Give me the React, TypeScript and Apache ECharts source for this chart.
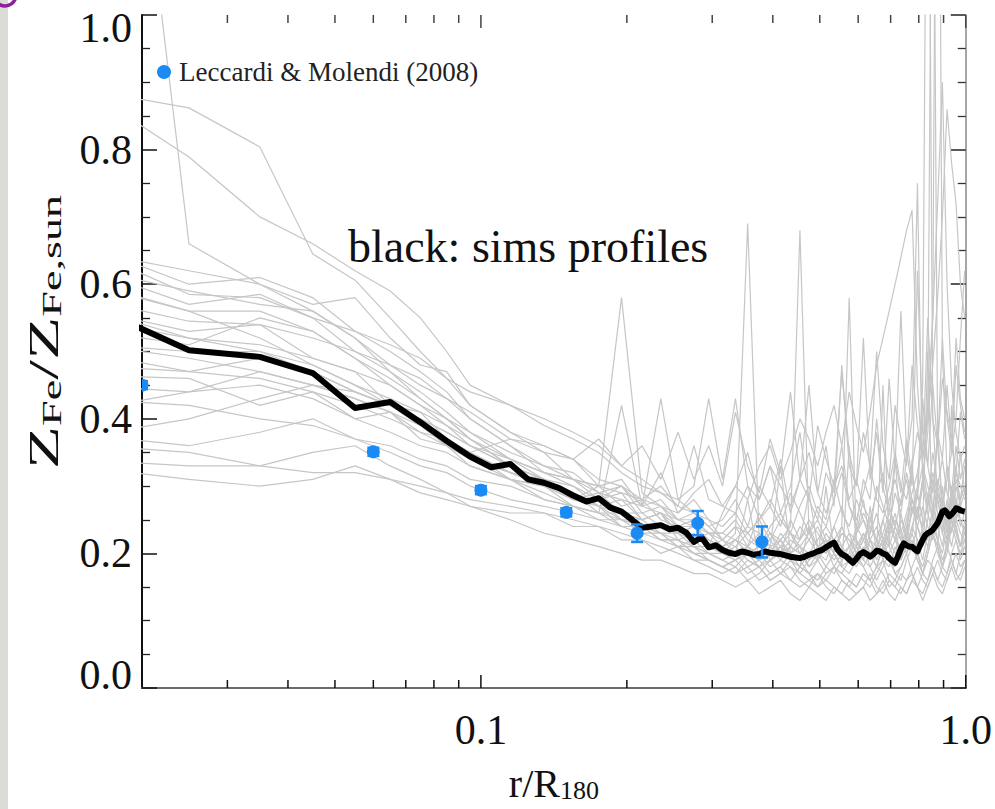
import React, { useEffect, useRef } from "react";
import * as echarts from "echarts";

// radial bins (r/R180) of the mean simulated profile
const BIN_R = [
  0.015, 0.025, 0.035, 0.045, 0.055, 0.065, 0.075, 0.085, 0.095,
  0.105, 0.115, 0.125, 0.135, 0.145, 0.155, 0.165, 0.175, 0.185, 0.195,
  0.205, 0.215, 0.225, 0.235, 0.245, 0.255, 0.265, 0.275, 0.285, 0.295,
  0.305, 0.315, 0.325, 0.335, 0.345, 0.355, 0.365, 0.375, 0.385, 0.395,
  0.405, 0.415, 0.425, 0.435, 0.445, 0.455, 0.465, 0.475, 0.485, 0.495,
  0.505, 0.515, 0.525, 0.535, 0.545, 0.555, 0.565, 0.575, 0.585, 0.595,
  0.605, 0.615, 0.625, 0.635, 0.645, 0.655, 0.665, 0.675, 0.685, 0.695,
  0.705, 0.715, 0.725, 0.735, 0.745, 0.755, 0.765, 0.775, 0.785, 0.795,
  0.805, 0.815, 0.825, 0.835, 0.845, 0.855, 0.865, 0.875, 0.885, 0.895,
  0.905, 0.915, 0.925, 0.935, 0.945, 0.955, 0.965, 0.975, 0.985, 0.995,
];

// mean simulated Z_Fe profile (thick black)
const MEAN_Z = [
  0.574, 0.502, 0.492, 0.468, 0.416, 0.425, 0.395, 0.367, 0.344,
  0.328, 0.333, 0.310, 0.305, 0.297, 0.286, 0.277, 0.282, 0.268, 0.262,
  0.250, 0.238, 0.240, 0.242, 0.236, 0.238, 0.231, 0.217, 0.224, 0.209,
  0.212, 0.205, 0.201, 0.199, 0.203, 0.201, 0.198, 0.199, 0.203, 0.201,
  0.200, 0.199, 0.197, 0.195, 0.194, 0.193, 0.195, 0.198, 0.200, 0.203,
  0.205, 0.209, 0.213, 0.216, 0.205, 0.199, 0.196, 0.191, 0.186, 0.192,
  0.199, 0.202, 0.199, 0.195, 0.199, 0.204, 0.203, 0.200, 0.198, 0.193,
  0.189, 0.186, 0.196, 0.207, 0.215, 0.212, 0.210, 0.210, 0.206, 0.203,
  0.212, 0.220, 0.227, 0.230, 0.232, 0.235, 0.240, 0.245, 0.253, 0.262,
  0.264, 0.260, 0.255, 0.258, 0.262, 0.267, 0.266, 0.264, 0.263, 0.262,
];

// radii at which the individual simulated profiles are sampled
const SIM_R = [
  0.015, 0.025, 0.035, 0.045, 0.055, 0.065, 0.075, 0.085, 0.095,
  0.115, 0.135, 0.155, 0.175, 0.195, 0.215, 0.235, 0.255, 0.275, 0.295,
  0.315, 0.335, 0.355, 0.375, 0.395, 0.415, 0.435, 0.455, 0.475, 0.495,
  0.515, 0.535, 0.555, 0.575, 0.595, 0.615, 0.635, 0.655, 0.675, 0.695,
  0.715, 0.735, 0.755, 0.775, 0.795, 0.815, 0.835, 0.855, 0.875, 0.895,
  0.915, 0.935, 0.955, 0.975, 0.995,
];

// individual simulated cluster profiles (thin grey)
const SIM_01 = [2.0, 0.66, 0.6, 0.56, 0.52, 0.47, 0.43, 0.4, 0.37,
  0.33, 0.31, 0.28, 0.29, 0.26, 0.25, 0.26, 0.22, 0.23, 0.21,
  0.22, 0.2, 0.21, 0.23, 0.19, 0.2, 0.22, 0.21, 0.18, 0.2, 0.23, 0.21, 0.19, 0.2, 0.24, 0.22, 0.2, 0.18,
  0.21, 0.25, 0.23, 0.2, 0.22, 0.27, 0.24, 0.21, 0.25, 0.31, 0.26, 0.23, 0.28, 0.25, 0.3, 0.27, 0.26];
const SIM_02 = [0.89, 0.862, 0.804, 0.645, 0.606, 0.55, 0.5, 0.46, 0.42,
  0.38, 0.36, 0.34, 0.31, 0.3, 0.28, 0.27, 0.25, 0.24, 0.23,
  0.23, 0.25, 0.22, 0.21, 0.24, 0.26, 0.23, 0.22, 0.25, 0.23, 0.21, 0.24, 0.27, 0.23, 0.22, 0.2, 0.23, 0.26,
  0.22, 0.21, 0.24, 0.22, 0.2, 0.23, 0.29, 0.25, 0.22, 0.27, 0.24, 0.21, 0.26, 0.23, 0.28, 0.25, 0.23];
const SIM_03 = [0.894, 0.789, 0.7, 0.66, 0.62, 0.59, 0.55, 0.5, 0.45,
  0.42, 0.4, 0.38, 0.36, 0.33, 0.31, 0.29, 0.28, 0.26, 0.25,
  0.22, 0.21, 0.23, 0.25, 0.22, 0.2, 0.21, 0.24, 0.22, 0.2, 0.19, 0.22, 0.24, 0.21, 0.23, 0.26, 0.24, 0.22,
  0.25, 0.28, 0.31, 0.27, 0.34, 0.4, 0.75, 0.3, 0.26, 0.23, 0.28, 0.25, 0.22, 0.27, 0.24, 0.21, 0.25];
const SIM_04 = [0.65, 0.62, 0.6, 0.57, 0.58, 0.52, 0.48, 0.47, 0.42,
  0.38, 0.35, 0.31, 0.3, 0.27, 0.28, 0.25, 0.24, 0.25, 0.21,
  0.2, 0.21, 0.19, 0.18, 0.2, 0.22, 0.19, 0.18, 0.17, 0.19, 0.21, 0.18, 0.17, 0.19, 0.2, 0.18, 0.16, 0.18,
  0.21, 0.19, 0.17, 0.18, 0.2, 0.22, 0.19, 0.17, 0.2, 0.23, 0.21, 0.18, 0.2, 0.24, 0.22, 0.2, 0.21];
const SIM_05 = [0.66, 0.6, 0.61, 0.58, 0.53, 0.5, 0.47, 0.44, 0.4,
  0.36, 0.32, 0.31, 0.28, 0.29, 0.25, 0.26, 0.23, 0.24, 0.22,
  0.21, 0.23, 0.69, 0.22, 0.2, 0.21, 0.23, 0.2, 0.19, 0.21, 0.22, 0.2, 0.18, 0.19, 0.21, 0.23, 0.2, 0.18,
  0.19, 0.22, 0.2, 0.19, 0.21, 0.24, 0.22, 0.19, 0.23, 0.26, 0.22, 0.2, 0.24, 0.21, 0.25, 0.23, 0.22];
const SIM_06 = [0.655, 0.585, 0.58, 0.55, 0.53, 0.51, 0.49, 0.46, 0.44,
  0.42, 0.39, 0.37, 0.35, 0.32, 0.3, 0.29, 0.27, 0.26, 0.24,
  0.22, 0.24, 0.23, 0.21, 0.22, 0.25, 0.23, 0.21, 0.2, 0.22, 0.24, 0.22, 0.2, 0.21, 0.23, 0.25, 0.22, 0.21,
  0.23, 0.26, 0.24, 0.22, 0.25, 0.28, 0.26, 0.24, 0.27, 0.32, 0.29, 0.27, 0.31, 0.35, 0.4, 0.52, 0.62];
const SIM_07 = [0.625, 0.59, 0.57, 0.56, 0.52, 0.48, 0.45, 0.43, 0.41,
  0.37, 0.35, 0.34, 0.3, 0.31, 0.27, 0.28, 0.25, 0.25, 0.23,
  0.23, 0.22, 0.24, 0.23, 0.21, 0.22, 0.24, 0.68, 0.23, 0.21, 0.22, 0.2, 0.23, 0.22, 0.21, 0.19, 0.22, 0.24,
  0.21, 0.2, 0.22, 0.25, 0.23, 0.21, 0.24, 0.27, 0.24, 0.22, 0.26, 0.23, 0.21, 0.25, 0.28, 0.24, 0.26];
const SIM_08 = [0.626, 0.57, 0.585, 0.55, 0.5, 0.47, 0.44, 0.41, 0.38,
  0.34, 0.31, 0.29, 0.27, 0.25, 0.24, 0.23, 0.22, 0.21, 0.2,
  0.2, 0.19, 0.21, 0.2, 0.18, 0.19, 0.21, 0.2, 0.18, 0.19, 0.22, 0.2, 0.24, 0.58, 0.21, 0.19, 0.18, 0.2,
  0.22, 0.19, 0.18, 0.2, 0.21, 0.23, 0.2, 0.18, 0.21, 0.24, 0.22, 0.19, 0.21, 0.25, 0.23, 0.21, 0.22];
const SIM_09 = [0.602, 0.56, 0.56, 0.53, 0.49, 0.45, 0.42, 0.39, 0.36,
  0.33, 0.3, 0.29, 0.26, 0.26, 0.24, 0.23, 0.21, 0.22, 0.2,
  0.19, 0.2, 0.18, 0.19, 0.21, 0.19, 0.18, 0.17, 0.19, 0.2, 0.18, 0.17, 0.19, 0.21, 0.19, 0.18, 0.2, 0.22,
  0.19, 0.18, 0.21, 0.19, 0.23, 0.26, 0.3, 0.45, 1.6, 0.4, 0.28, 0.24, 0.22, 0.26, 0.23, 0.21, 0.24];
const SIM_10 = [0.58, 0.545, 0.54, 0.52, 0.5, 0.48, 0.46, 0.43, 0.4,
  0.36, 0.33, 0.32, 0.29, 0.3, 0.26, 0.27, 0.24, 0.24, 0.22,
  0.21, 0.22, 0.2, 0.21, 0.23, 0.21, 0.2, 0.22, 0.24, 0.21, 0.2, 0.22, 0.21, 0.19, 0.2, 0.23, 0.21, 0.2,
  0.22, 0.25, 0.22, 0.21, 0.24, 0.28, 0.26, 0.31, 0.38, 0.55, 1.8, 0.5, 0.32, 0.28, 0.33, 0.27, 0.29];
const SIM_11 = [0.565, 0.53, 0.54, 0.49, 0.47, 0.42, 0.41, 0.37, 0.35,
  0.31, 0.3, 0.27, 0.26, 0.24, 0.24, 0.22, 0.22, 0.2, 0.19,
  0.18, 0.19, 0.17, 0.18, 0.16, 0.17, 0.19, 0.17, 0.16, 0.15, 0.17, 0.18, 0.16, 0.15, 0.17, 0.16, 0.15, 0.17,
  0.19, 0.16, 0.15, 0.17, 0.16, 0.18, 0.2, 0.17, 0.16, 0.19, 0.21, 0.18, 0.17, 0.2, 0.22, 0.19, 0.21];
const SIM_12 = [0.533, 0.51, 0.55, 0.53, 0.49, 0.46, 0.43, 0.4, 0.37,
  0.33, 0.31, 0.28, 0.27, 0.24, 0.24, 0.22, 0.22, 0.2, 0.2,
  0.19, 0.18, 0.2, 0.19, 0.17, 0.18, 0.2, 0.19, 0.17, 0.16, 0.18, 0.2, 0.18, 0.17, 0.19, 0.21, 0.18, 0.16,
  0.18, 0.2, 0.17, 0.16, 0.19, 0.21, 0.19, 0.17, 0.2, 0.23, 0.2, 0.18, 0.22, 0.26, 0.24, 0.21, 0.23];
const SIM_13 = [0.513, 0.49, 0.47, 0.45, 0.43, 0.41, 0.39, 0.36, 0.34,
  0.31, 0.3, 0.28, 0.28, 0.26, 0.26, 0.24, 0.24, 0.22, 0.23,
  0.21, 0.22, 0.2, 0.21, 0.23, 0.22, 0.2, 0.21, 0.23, 0.25, 0.22, 0.21, 0.23, 0.22, 0.2, 0.22, 0.24, 0.22,
  0.21, 0.23, 0.25, 0.23, 0.26, 0.29, 0.32, 0.36, 0.42, 0.55, 0.72, 0.9, 0.6, 0.45, 0.38, 0.34, 0.36];
const SIM_14 = [0.5, 0.47, 0.49, 0.47, 0.44, 0.42, 0.4, 0.38, 0.36,
  0.33, 0.31, 0.3, 0.27, 0.28, 0.25, 0.26, 0.23, 0.24, 0.21,
  0.26, 0.3, 0.28, 0.33, 0.36, 0.31, 0.35, 0.4, 0.37, 0.33, 0.38, 0.42, 0.36, 0.44, 0.39, 0.35, 0.41, 0.48,
  0.52, 0.56, 0.6, 0.64, 0.68, 0.71, 0.45, 0.33, 0.3, 0.27, 0.31, 0.28, 0.25, 0.29, 0.26, 0.28, 0.3];
const SIM_15 = [0.465, 0.46, 0.42, 0.44, 0.4, 0.41, 0.37, 0.36, 0.33,
  0.31, 0.28, 0.27, 0.25, 0.25, 0.23, 0.23, 0.21, 0.21, 0.19,
  0.18, 0.17, 0.19, 0.18, 0.16, 0.17, 0.18, 0.16, 0.15, 0.17, 0.16, 0.15, 0.14, 0.16, 0.15, 0.17, 0.16, 0.14,
  0.15, 0.17, 0.16, 0.15, 0.14, 0.16, 0.18, 0.16, 0.15, 0.17, 0.19, 0.17, 0.16, 0.18, 0.2, 0.18, 0.19];
const SIM_16 = [0.412, 0.44, 0.45, 0.43, 0.4, 0.38, 0.36, 0.35, 0.33,
  0.31, 0.29, 0.27, 0.26, 0.42, 0.27, 0.43, 0.28, 0.3, 0.43,
  0.31, 0.43, 0.3, 0.28, 0.33, 0.3, 0.27, 0.31, 0.35, 0.29, 0.26, 0.3, 0.33, 0.28, 0.31, 0.27, 0.25, 0.29,
  0.32, 0.27, 0.24, 0.28, 0.31, 0.26, 0.29, 0.33, 0.28, 0.25, 0.3, 0.34, 0.29, 0.27, 0.32, 0.3, 0.28];
const SIM_17 = [0.372, 0.4, 0.43, 0.45, 0.44, 0.42, 0.4, 0.37, 0.35,
  0.32, 0.31, 0.28, 0.28, 0.25, 0.25, 0.23, 0.23, 0.21, 0.21,
  0.2, 0.22, 0.21, 0.19, 0.2, 0.23, 0.21, 0.2, 0.22, 0.24, 0.21, 0.19, 0.21, 0.23, 0.2, 0.22, 0.25, 0.22,
  0.2, 0.23, 0.26, 0.22, 0.21, 0.24, 0.27, 0.23, 0.21, 0.25, 0.29, 0.26, 0.23, 0.27, 0.31, 0.28, 0.3];
const SIM_18 = [0.377, 0.36, 0.38, 0.4, 0.37, 0.35, 0.33, 0.32, 0.3,
  0.28, 0.27, 0.26, 0.25, 0.24, 0.23, 0.22, 0.21, 0.2, 0.19,
  0.18, 0.17, 0.18, 0.16, 0.17, 0.18, 0.16, 0.15, 0.16, 0.17, 0.15, 0.14, 0.16, 0.15, 0.14, 0.15, 0.17, 0.15,
  0.14, 0.16, 0.15, 0.14, 0.16, 0.17, 0.15, 0.14, 0.16, 0.18, 0.16, 0.15, 0.17, 0.19, 0.17, 0.16, 0.18];
const SIM_19 = [0.362, 0.35, 0.33, 0.35, 0.36, 0.33, 0.31, 0.29, 0.27,
  0.26, 0.26, 0.24, 0.24, 0.22, 0.22, 0.2, 0.21, 0.19, 0.18,
  0.17, 0.18, 0.16, 0.17, 0.19, 0.17, 0.16, 0.18, 0.17, 0.15, 0.16, 0.18, 0.17, 0.16, 0.15, 0.17, 0.16, 0.18,
  0.17, 0.15, 0.16, 0.18, 0.2, 0.17, 0.15, 0.17, 0.19, 0.18, 0.16, 0.18, 0.21, 0.19, 0.17, 0.2, 0.22];
const SIM_20 = [0.339, 0.33, 0.33, 0.32, 0.32, 0.31, 0.3, 0.29, 0.28,
  0.27, 0.26, 0.25, 0.24, 0.23, 0.22, 0.21, 0.2, 0.19, 0.19,
  0.18, 0.19, 0.2, 0.18, 0.19, 0.21, 0.19, 0.18, 0.2, 0.19, 0.17, 0.18, 0.2, 0.19, 0.18, 0.2, 0.22, 0.19,
  0.21, 0.24, 0.22, 0.2, 0.24, 0.28, 0.25, 0.3, 0.42, 1.5, 0.36, 0.27, 0.24, 0.28, 0.25, 0.27, 0.26];
const SIM_21 = [0.329, 0.31, 0.3, 0.31, 0.33, 0.31, 0.29, 0.28, 0.27,
  0.25, 0.23, 0.22, 0.21, 0.2, 0.19, 0.19, 0.18, 0.17, 0.17,
  0.16, 0.15, 0.16, 0.14, 0.15, 0.16, 0.14, 0.13, 0.15, 0.14, 0.13, 0.15, 0.14, 0.13, 0.14, 0.15, 0.13, 0.14,
  0.16, 0.14, 0.13, 0.15, 0.14, 0.16, 0.15, 0.13, 0.15, 0.17, 0.15, 0.14, 0.16, 0.18, 0.16, 0.17, 0.19];
const SIM_22 = [0.606, 0.56, 0.52, 0.48, 0.45, 0.42, 0.39, 0.37, 0.35,
  0.32, 0.3, 0.28, 0.3, 0.58, 0.29, 0.27, 0.26, 0.28, 0.25,
  0.24, 0.26, 0.23, 0.25, 0.28, 0.25, 0.23, 0.27, 0.3, 0.26, 0.24, 0.28, 0.32, 0.27, 0.25, 0.29, 0.33, 0.28,
  0.26, 0.3, 0.35, 0.3, 0.28, 0.33, 0.38, 0.34, 0.4, 0.48, 0.58, 0.7, 0.86, 0.78, 0.72, 0.6, 0.55];
const SIM_23 = [0.567, 0.52, 0.51, 0.49, 0.47, 0.45, 0.42, 0.4, 0.38,
  0.35, 0.33, 0.31, 0.29, 0.28, 0.27, 0.26, 0.25, 0.26, 0.24,
  0.25, 0.28, 0.24, 0.3, 0.27, 0.34, 0.26, 0.31, 0.45, 0.29, 0.36, 0.27, 0.48, 0.33, 0.3, 0.52, 0.31, 0.38,
  0.29, 0.46, 0.33, 0.56, 0.35, 0.3, 0.62, 0.38, 0.33, 0.45, 0.36, 0.52, 0.4, 0.35, 0.48, 0.42, 0.38];
const SIM_24 = [0.512, 0.5, 0.5, 0.48, 0.45, 0.43, 0.41, 0.39, 0.37,
  0.34, 0.32, 0.3, 0.28, 0.3, 0.27, 0.32, 0.26, 0.29, 0.31,
  0.27, 0.3, 0.35, 0.28, 0.33, 0.26, 0.3, 0.38, 0.28, 0.25, 0.32, 0.29, 0.36, 0.27, 0.24, 0.31, 0.28, 0.4,
  0.3, 0.26, 0.34, 0.29, 0.37, 0.31, 0.28, 0.43, 0.33, 0.29, 0.38, 0.34, 0.45, 0.36, 0.32, 0.41, 0.37];
const SIM_25 = [0.48, 0.47, 0.46, 0.44, 0.42, 0.4, 0.38, 0.37, 0.35,
  0.37, 0.36, 0.34, 0.37, 0.33, 0.36, 0.31, 0.38, 0.31, 0.36,
  0.3, 0.41, 0.33, 0.29, 0.37, 0.32, 0.44, 0.31, 0.28, 0.39, 0.34, 0.3, 0.47, 0.35, 0.3, 0.38, 0.33, 0.5,
  0.36, 0.31, 0.42, 0.37, 0.33, 0.48, 0.39, 0.34, 0.55, 0.4, 0.36, 0.46, 0.41, 0.37, 0.52, 0.43, 0.4];
const SIM_26 = [0.43, 0.42, 0.4, 0.39, 0.37, 0.36, 0.34, 0.33, 0.31,
  0.3, 0.28, 0.27, 0.26, 0.25, 0.24, 0.24, 0.23, 0.22, 0.22,
  0.21, 0.2, 0.28, 0.19, 0.21, 0.33, 0.2, 0.18, 0.24, 0.19, 0.3, 0.2, 0.18, 0.36, 0.21, 0.19, 0.27, 0.2,
  0.45, 0.21, 0.19, 0.26, 0.22, 0.34, 0.2, 0.24, 0.5, 0.23, 0.21, 0.3, 0.24, 0.42, 0.25, 0.28, 0.33];
const SIM_27 = [0.45, 0.44, 0.47, 0.45, 0.43, 0.41, 0.38, 0.36, 0.34,
  0.32, 0.3, 0.29, 0.27, 0.26, 0.25, 0.26, 0.24, 0.25, 0.23,
  0.22, 0.24, 0.21, 0.26, 0.23, 0.2, 0.25, 0.22, 0.29, 0.21, 0.2, 0.24, 0.21, 0.19, 0.23, 0.28, 0.22, 0.2,
  0.25, 0.21, 0.34, 0.23, 0.21, 0.27, 0.24, 0.22, 0.29, 0.25, 0.38, 0.27, 0.24, 0.3, 0.26, 0.35, 0.29];
const SIM_28 = [0.55, 0.52, 0.5, 0.47, 0.44, 0.42, 0.4, 0.38, 0.36,
  0.34, 0.32, 0.31, 0.3, 0.29, 0.28, 0.3, 0.27, 0.36, 0.28,
  0.27, 0.26, 0.3, 0.25, 0.27, 0.24, 0.29, 0.26, 0.23, 0.27, 0.25, 0.31, 0.26, 0.24, 0.28, 0.25, 0.23, 0.3,
  0.27, 0.24, 0.29, 0.26, 0.32, 0.28, 0.25, 0.31, 0.27, 0.35, 0.3, 0.27, 0.33, 0.29, 0.36, 0.31, 0.34];

const SIMS = [SIM_01, SIM_02, SIM_03, SIM_04, SIM_05, SIM_06, SIM_07, SIM_08, SIM_09, SIM_10, SIM_11, SIM_12,
  SIM_13, SIM_14, SIM_15, SIM_16, SIM_17, SIM_18, SIM_19, SIM_20, SIM_21, SIM_22, SIM_23, SIM_24,
  SIM_25, SIM_26, SIM_27, SIM_28];

// Leccardi & Molendi (2008) observations
const LM08_R = [0.02, 0.06, 0.1, 0.15, 0.21, 0.28, 0.38];
const LM08_Z = [0.45, 0.351, 0.294, 0.261, 0.23, 0.245, 0.217];
const LM08_ERR = [0.006, 0.006, 0.006, 0.006, 0.013, 0.018, 0.023];
const LM08_NAME = "Leccardi & Molendi (2008)";

// axis ticks
const X_MINOR_TICKS = [0.03, 0.04, 0.05, 0.06, 0.07, 0.08, 0.09, 0.2, 0.3, 0.4, 0.5, 0.6, 0.7, 0.8, 0.9];
const X_MAJOR_TICKS = [0.1, 1.0];
const X_LABELS: [number, string][] = [[0.1, "0.1"], [1.0, "1.0"]];

const SERIF = '"Liberation Serif", "Times New Roman", serif';
const BLUE = "#1a8af5";
const GREY = "#c6c6c6";

export default function App() {
  const ref = useRef<HTMLDivElement>(null);

  useEffect(() => {
    if (!ref.current) return;
    const chart = echarts.init(ref.current, undefined, { renderer: "svg" });

    const simSeries = SIMS.map((ys, k) => ({
      type: "line",
      name: "sim" + k,
      data: SIM_R.map((r, i) => [r, ys[i]]),
      showSymbol: false,
      symbol: "none",
      lineStyle: { color: GREY, width: 1.2 },
      silent: true,
      z: 2,
      clip: true,
    }));

    const tickData = [
      ...X_MINOR_TICKS.map((v) => [v, 0.5, 0]),
      ...X_MAJOR_TICKS.map((v) => [v, 0.5, 1]),
    ];

    const option: any = {
      animation: false,
      grid: { left: 142, top: 15, width: 829, height: 673 },
      legend: {
        data: [{ name: LM08_NAME, icon: "circle" }],
        left: 157,
        top: 58,
        padding: 0,
        itemWidth: 20,
        itemHeight: 14,
        textStyle: { fontFamily: SERIF, fontSize: 27, color: "#222", lineHeight: 28 },
        selectedMode: false,
      },
      xAxis: [
        {
          type: "log",
          logBase: 10,
          min: 0.02,
          max: 1,
          position: "bottom",
          axisLine: { show: true, lineStyle: { color: "#111", width: 2 } },
          axisTick: { show: false },
          minorTick: { show: false },
          splitLine: { show: false },
          axisLabel: {
            fontFamily: SERIF,
            fontSize: 42,
            color: "#111",
            margin: 21,
            showMinLabel: true,
            showMaxLabel: true,
            formatter: (v: number) => {
              for (const [t, s] of X_LABELS) {
                if (Math.abs(Math.log10(v) - Math.log10(t)) < 1e-6) return s;
              }
              return "";
            },
          },
          name: "{a|r/R}{b|180}",
          nameLocation: "middle",
          nameGap: 75,
          nameTextStyle: {
            color: "#111",
            rich: {
              a: { fontFamily: SERIF, fontSize: 40, lineHeight: 40, color: "#111" },
              b: { fontFamily: SERIF, fontSize: 26, lineHeight: 10, verticalAlign: "bottom", color: "#111" },
            },
          },
        },
        {
          type: "log",
          logBase: 10,
          min: 0.02,
          max: 1,
          position: "top",
          axisLine: { show: true, lineStyle: { color: "#888", width: 1.5 } },
          axisTick: { show: false },
          axisLabel: { show: false },
          splitLine: { show: false },
        },
      ],
      yAxis: [
        {
          type: "value",
          min: 0,
          max: 1,
          interval: 0.2,
          position: "left",
          axisLine: { show: true, lineStyle: { color: "#111", width: 2 } },
          axisTick: { show: true, inside: true, length: 15, lineStyle: { color: "#111", width: 1.5 } },
          minorTick: { show: true, splitNumber: 4, length: 8, lineStyle: { color: "#222", width: 1.3 } },
          splitLine: { show: false },
          axisLabel: {
            fontFamily: SERIF,
            fontSize: 42,
            color: "#111",
            margin: 10,
            lineHeight: 26,
            verticalAlignMinLabel: "bottom",
            verticalAlignMaxLabel: "top",
            formatter: (v: number) => v.toFixed(1),
          },
        },
        {
          type: "value",
          min: 0,
          max: 1,
          interval: 0.2,
          position: "right",
          axisLine: { show: true, lineStyle: { color: "#888", width: 1.5 } },
          axisTick: { show: true, inside: true, length: 15, lineStyle: { color: "#222", width: 1.5 } },
          minorTick: { show: true, splitNumber: 4, length: 8, lineStyle: { color: "#333", width: 1.3 } },
          splitLine: { show: false },
          axisLabel: { show: false },
        },
      ],
      graphic: [
        { type: "rect", left: 0, top: 0, shape: { width: 8, height: 809 }, style: { fill: "#dcdbd5" }, silent: true },
        {
          type: "arc",
          shape: { cx: 5, cy: -5, r: 11, startAngle: -0.4, endAngle: 2.3 },
          style: { stroke: "#8e1f9c", lineWidth: 3.5, fill: "none" },
          silent: true,
        },
        {
          type: "text",
          x: 348,
          y: 246,
          style: {
            text: "black: sims profiles",
            font: '46px "Liberation Serif", serif',
            fill: "#111",
            verticalAlign: "middle",
          },
          silent: true,
          z: 10,
        },
        {
          type: "text",
          x: 44,
          y: 332,
          rotation: Math.PI / 2,
          scaleX: 1.65,
          style: {
            text: "{a|Z}{b|Fe}{a|/Z}{b|Fe,sun}",
            align: "center",
            verticalAlign: "middle",
            fill: "#111",
            rich: {
              a: { fontFamily: SERIF, fontSize: 43, lineHeight: 43, fill: "#111" },
              b: { fontFamily: SERIF, fontSize: 28, lineHeight: 10, verticalAlign: "bottom", fill: "#111" },
            },
          },
          silent: true,
        },
      ],
      series: [
        ...simSeries,
        {
          type: "line",
          name: "mean",
          data: BIN_R.map((r, i) => [r, MEAN_Z[i]]),
          showSymbol: false,
          symbol: "none",
          lineStyle: { color: "#000", width: 6, join: "round" },
          silent: true,
          z: 4,
          clip: true,
        },
        {
          type: "custom",
          name: LM08_NAME,
          data: LM08_R.map((r, i) => [r, LM08_Z[i], LM08_ERR[i]]),
          itemStyle: { color: BLUE },
          clip: true,
          z: 6,
          silent: true,
          renderItem: (params: any, api: any) => {
            const r = api.value(0);
            const z = api.value(1);
            const e = api.value(2);
            const c = api.coord([r, z]);
            const top = api.coord([r, z + e]);
            const bot = api.coord([r, z - e]);
            const cap = 6;
            const st = { stroke: BLUE, lineWidth: 2.5 };
            return {
              type: "group",
              children: [
                { type: "line", shape: { x1: c[0], y1: top[1], x2: c[0], y2: bot[1] }, style: st },
                { type: "line", shape: { x1: c[0] - cap, y1: top[1], x2: c[0] + cap, y2: top[1] }, style: st },
                { type: "line", shape: { x1: c[0] - cap, y1: bot[1], x2: c[0] + cap, y2: bot[1] }, style: st },
                { type: "circle", shape: { cx: c[0], cy: c[1], r: 6.5 }, style: { fill: BLUE } },
              ],
            };
          },
        },
        {
          type: "custom",
          name: "xticks",
          data: tickData,
          clip: false,
          silent: true,
          z: 7,
          renderItem: (params: any, api: any) => {
            const v = api.value(0);
            const major = api.value(2) === 1;
            const x = api.coord([v, 0.5])[0];
            const cs = params.coordSys;
            const len = major ? 13 : 8;
            const bottom = cs.y + cs.height;
            return {
              type: "group",
              children: [
                { type: "line", shape: { x1: x, y1: bottom, x2: x, y2: bottom - len }, style: { stroke: "#111", lineWidth: 1.5 } },
                { type: "line", shape: { x1: x, y1: cs.y, x2: x, y2: cs.y + len }, style: { stroke: "#444", lineWidth: 1.5 } },
              ],
            };
          },
        },
      ],
    };

    chart.setOption(option);
    return () => chart.dispose();
  }, []);

  return (
    <div
      ref={ref}
      style={{ position: "absolute", left: 0, top: 0, width: 995, height: 809, background: "#ffffff" }}
    />
  );
}
